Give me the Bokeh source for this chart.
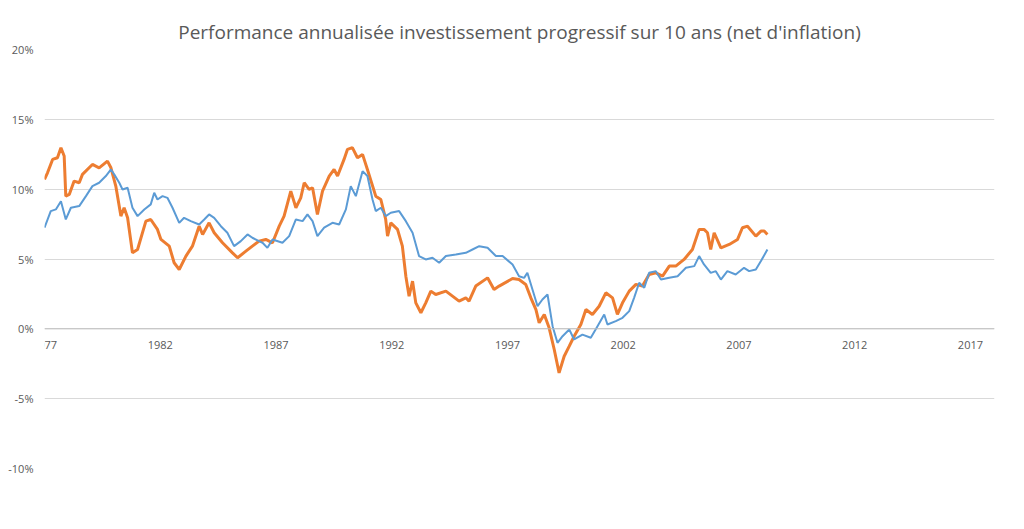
from bokeh.plotting import figure
from bokeh.models import Range1d, FixedTicker, Legend, LegendItem, CustomJSTickFormatter, Span, ColumnDataSource
from bokeh.core.properties import value
from bokeh.embed import file_html
from bokeh.resources import INLINE

prog_x = [1977.0,1977.13,1977.35,1977.56,1977.71,1977.85,1977.92,1978.07,1978.28,1978.5,1978.64,1979.07,1979.36,1979.72,1979.87,1980.08,1980.3,1980.44,1980.59,1980.8,1981.02,1981.38,1981.59,1981.88,1982.03,1982.39,1982.6,1982.82,1983.11,1983.39,1983.68,1983.83,1984.11,1984.33,1984.69,1985.12,1985.34,1985.7,1985.98,1986.27,1986.56,1986.85,1987.14,1987.35,1987.64,1987.86,1988.07,1988.22,1988.43,1988.58,1988.79,1989.01,1989.3,1989.51,1989.66,1989.94,1990.09,1990.3,1990.52,1990.74,1990.95,1991.31,1991.53,1991.74,1991.82,1991.96,1992.25,1992.46,1992.61,1992.75,1992.9,1993.04,1993.26,1993.47,1993.69,1993.9,1994.34,1994.91,1995.2,1995.34,1995.63,1996.14,1996.42,1996.64,1997.22,1997.5,1997.79,1998.01,1998.23,1998.37,1998.59,1998.8,1999.02,1999.23,1999.45,1999.67,1999.88,2000.17,2000.39,2000.67,2000.96,2001.25,2001.54,2001.75,2001.97,2002.26,2002.55,2002.83,2003.12,2003.41,2003.7,2003.99,2004.27,2004.63,2004.99,2005.28,2005.49,2005.64,2005.78,2005.93,2006.22,2006.58,2006.94,2007.15,2007.37,2007.73,2007.95,2008.09,2008.23]
prog_y = [10.7,11.17,12.13,12.25,12.97,12.37,9.5,9.62,10.58,10.46,11.06,11.77,11.53,12.01,11.53,10.22,8.07,8.67,7.95,5.44,5.68,7.71,7.83,7.12,6.4,5.92,4.73,4.25,5.21,5.92,7.35,6.76,7.59,6.88,6.16,5.44,5.09,5.56,5.92,6.28,6.4,6.16,7.35,8.07,9.86,8.67,9.38,10.46,9.98,10.1,8.19,9.86,10.94,11.41,10.94,12.13,12.85,12.97,12.25,12.49,11.41,9.5,9.26,7.83,6.64,7.59,7.12,5.92,3.77,2.34,3.41,1.86,1.15,1.86,2.7,2.46,2.7,1.98,2.22,1.98,3.06,3.65,2.82,3.06,3.6,3.53,3.18,2.22,1.38,0.43,1.03,0.07,-1.48,-3.15,-1.96,-1.24,-0.53,0.31,1.38,1.03,1.62,2.58,2.22,1.03,1.86,2.7,3.18,3.06,3.89,4.01,3.77,4.49,4.49,4.97,5.68,7.12,7.12,6.88,5.68,6.88,5.8,6.04,6.4,7.24,7.35,6.64,7.0,7.0,6.76]

coup_x = [1977.0,1977.27,1977.49,1977.71,1977.92,1978.14,1978.5,1978.79,1979.07,1979.36,1979.65,1979.87,1980.01,1980.23,1980.37,1980.59,1980.8,1981.02,1981.31,1981.59,1981.74,1981.88,1982.1,1982.31,1982.53,1982.82,1983.03,1983.32,1983.68,1983.9,1984.11,1984.33,1984.62,1984.9,1985.19,1985.48,1985.77,1985.98,1986.42,1986.63,1986.85,1987.28,1987.57,1987.86,1988.15,1988.36,1988.58,1988.79,1989.08,1989.44,1989.73,1990.02,1990.23,1990.45,1990.74,1990.95,1991.17,1991.31,1991.53,1991.74,1991.96,1992.32,1992.61,1992.9,1993.18,1993.47,1993.76,1994.05,1994.34,1994.77,1995.2,1995.49,1995.78,1996.14,1996.5,1996.79,1997.22,1997.5,1997.72,1997.86,1998.08,1998.3,1998.51,1998.73,1998.95,1999.16,1999.38,1999.67,1999.88,2000.24,2000.6,2000.89,2001.18,2001.32,2001.68,2001.97,2002.26,2002.47,2002.69,2002.91,2003.12,2003.41,2003.63,2003.99,2004.35,2004.71,2005.07,2005.28,2005.49,2005.78,2006.0,2006.22,2006.5,2006.86,2007.22,2007.44,2007.73,2007.95,2008.23]
coup_y = [7.24,8.43,8.55,9.14,7.83,8.67,8.79,9.5,10.22,10.46,10.94,11.41,11.06,10.46,9.98,10.1,8.67,8.07,8.55,8.91,9.74,9.26,9.5,9.38,8.67,7.59,7.95,7.71,7.47,7.83,8.19,7.95,7.35,6.88,5.92,6.28,6.76,6.52,6.16,5.8,6.4,6.16,6.64,7.83,7.71,8.19,7.71,6.64,7.24,7.59,7.47,8.55,10.22,9.5,11.29,10.94,9.26,8.43,8.67,8.07,8.31,8.43,7.71,6.88,5.21,4.97,5.09,4.73,5.21,5.32,5.44,5.68,5.92,5.8,5.21,5.21,4.6,3.77,3.65,4.01,2.82,1.62,2.1,2.46,0.19,-1.0,-0.53,-0.05,-0.76,-0.41,-0.64,0.19,1.03,0.31,0.55,0.79,1.27,2.22,3.3,2.94,4.01,4.13,3.53,3.65,3.77,4.37,4.49,5.21,4.61,4.01,4.13,3.53,4.13,3.89,4.37,4.13,4.25,4.85,5.68]

x_ticks = [1977, 1982, 1987, 1992, 1997, 2002, 2007, 2012, 2017]
x_labels = [str(t) for t in x_ticks]
y_ticks = [-10, -5, 0, 5, 10, 15, 20]

FONT = "Open Sans"
GREY = "#595959"

p = figure(width=1008, height=513, min_border_left=44, min_border_top=49,
           min_border_right=14, min_border_bottom=45,
           x_range=Range1d(1977, 2018.04), y_range=Range1d(-10, 20),
           output_backend="svg", toolbar_location=None,
           title="Performance annualisée investissement progressif sur 10 ans (net d'inflation)")
p.title.align = "center"
p.title.text_font = FONT
p.title.text_font_size = "19px"
p.title.text_font_style = "normal"
p.title.text_color = GREY
p.title.standoff = 10
p.outline_line_color = None

p.xaxis.visible = False
p.xgrid.grid_line_color = None
p.ygrid.grid_line_color = "#d9d9d9"
p.ygrid.ticker = FixedTicker(ticks=y_ticks)

p.yaxis.ticker = FixedTicker(ticks=y_ticks)
p.yaxis.formatter = CustomJSTickFormatter(code="return tick + '%';")
p.yaxis.axis_line_color = None
p.yaxis.major_tick_line_color = None
p.yaxis.minor_tick_line_color = None
p.yaxis.major_label_text_font = FONT
p.yaxis.major_label_text_font_size = "11px"
p.yaxis.major_label_text_color = GREY

p.add_layout(Span(location=0, dimension="width", line_color="#bfbfbf", line_width=1))
tick_src = ColumnDataSource(dict(x=x_ticks, y=[0] * len(x_ticks), t=x_labels))
p.segment(x0="x", y0="y", x1="x", y1="y", source=tick_src, line_color="#bfbfbf")
p.text(x="x", y="y", text="t", source=tick_src, y_offset=16,
       text_align="center", text_baseline="middle", text_font=value(FONT),
       text_font_size="11px", text_color=GREY)

r1 = p.line(prog_x, prog_y, line_color="#ED7D31", line_width=3)
r2 = p.line(coup_x, coup_y, line_color="#5B9BD5", line_width=2)

legend = Legend(items=[LegendItem(label="10 ans progressif", renderers=[r1]),
                       LegendItem(label="10 ans d'un coup", renderers=[r2])],
                orientation="horizontal", location=(318, -40),
                border_line_color=None, background_fill_alpha=0, label_text_font=FONT,
                label_text_font_size="11px", label_text_color=GREY,
                glyph_width=28, spacing=20, padding=4, margin=0)
p.add_layout(legend, "center")

open("out.html", "w").write(file_html(p, INLINE))
